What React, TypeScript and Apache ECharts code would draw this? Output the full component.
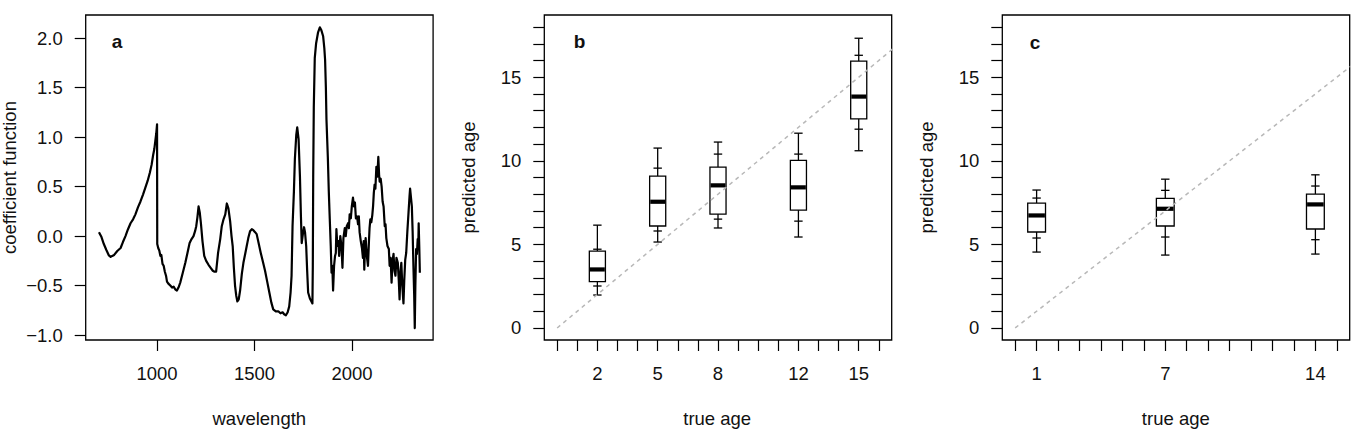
import React, { useEffect, useRef } from "react";
import * as echarts from "echarts";

// ---------- Panel a: coefficient function ----------
const wavelengths = [
  702, 715, 727, 740, 753, 762, 770, 780, 796, 813, 825, 838, 851, 864, 877, 889, 902, 915, 928, 940,
  952, 963, 972, 980, 986, 991, 996, 1000, 1001, 1006, 1012, 1017, 1022, 1028, 1034, 1040, 1046, 1051,
  1058, 1068, 1077, 1085, 1094, 1102, 1110, 1119, 1132, 1145, 1156, 1167, 1177, 1187, 1195, 1201, 1207,
  1213, 1219, 1225, 1233, 1242, 1252, 1264, 1275, 1286, 1295, 1303, 1313, 1324, 1332, 1341, 1350, 1358,
  1366, 1375, 1382, 1388, 1394, 1400, 1406, 1412, 1419, 1426, 1435, 1443, 1452, 1460, 1468, 1477, 1486,
  1494, 1503, 1511, 1522, 1532, 1543, 1554, 1565, 1576, 1586, 1596, 1609, 1622, 1633, 1644, 1652, 1661,
  1670, 1678, 1685, 1690, 1695, 1702, 1707, 1714, 1719, 1726, 1733, 1738, 1742, 1748, 1754, 1759, 1765,
  1770, 1775, 1784, 1792, 1797, 1799, 1801, 1804, 1809, 1816, 1826, 1835, 1843, 1852, 1858, 1862, 1866,
  1869, 1876, 1881, 1886, 1891, 1895, 1899, 1903, 1908, 1913, 1917, 1920, 1925, 1930, 1934, 1940, 1946,
  1951, 1956, 1963, 1968, 1973, 1980, 1984, 1988, 1994, 1999, 2005, 2010, 2015, 2020, 2026, 2031, 2035,
  2039, 2045, 2051, 2056, 2060, 2063, 2067, 2070, 2076, 2082, 2087, 2090, 2094, 2099, 2104, 2108, 2112,
  2116, 2120, 2125, 2130, 2135, 2139, 2142, 2147, 2152, 2157, 2162, 2168, 2172, 2176, 2182, 2189, 2193,
  2198, 2203, 2208, 2213, 2218, 2223, 2228, 2235, 2240, 2244, 2249, 2253, 2258, 2264, 2268, 2273, 2278,
  2284, 2290, 2295, 2298, 2302, 2307, 2311, 2315, 2319, 2322, 2325, 2329, 2333, 2337, 2340, 2342, 2345,
  2348,
];
const coefficients = [
  0.04, -0.01, -0.08, -0.14, -0.195, -0.21, -0.2, -0.19, -0.15, -0.12, -0.06, 0.0, 0.07, 0.13, 0.17, 0.22,
  0.29, 0.35, 0.42, 0.49, 0.56, 0.64, 0.72, 0.82, 0.88, 0.96, 1.04, 1.13, -0.08, -0.12, -0.15, -0.2, -0.19,
  -0.28, -0.3, -0.36, -0.4, -0.46, -0.48, -0.5, -0.52, -0.51, -0.54, -0.55, -0.52, -0.47, -0.37, -0.27,
  -0.17, -0.07, -0.03, 0.0, 0.05, 0.1, 0.19, 0.3, 0.24, 0.13, -0.05, -0.2, -0.25, -0.29, -0.32, -0.35,
  -0.36, -0.36, -0.17, -0.03, 0.1, 0.17, 0.22, 0.33, 0.28, 0.15, 0.0, -0.1, -0.32, -0.5, -0.6, -0.66,
  -0.64, -0.55, -0.38, -0.27, -0.18, -0.1, -0.02, 0.05, 0.07, 0.06, 0.04, 0.02, -0.08, -0.17, -0.26, -0.35,
  -0.46, -0.57, -0.67, -0.74, -0.76, -0.76, -0.78, -0.77, -0.79, -0.8, -0.77, -0.71, -0.57, -0.4, 0.1,
  0.45, 0.78, 1.02, 1.1, 0.98, 0.6, 0.2, -0.07, 0.02, 0.09, 0.04, -0.1, -0.35, -0.57, -0.63, -0.66, -0.68,
  -0.3, 0.6, 1.3, 1.8, 1.95, 2.06, 2.11, 2.08, 2.02, 1.9, 1.78, 1.5, 1.18, 0.8, 0.45, 0.17, -0.1, -0.37,
  -0.3, -0.55, -0.3, -0.2, -0.17, 0.07, -0.1, -0.05, -0.2, 0.0, -0.1, -0.32, -0.02, 0.08, 0.0, 0.1, 0.13,
  0.08, 0.22, 0.18, 0.3, 0.39, 0.3, 0.34, 0.18, 0.2, 0.12, 0.2, 0.04, -0.05, -0.12, -0.22, -0.05, -0.34,
  -0.1, -0.02, -0.2, -0.3, -0.05, 0.08, 0.17, 0.14, 0.21, 0.3, 0.44, 0.52, 0.48, 0.7, 0.6, 0.8, 0.62,
  0.55, 0.58, 0.5, 0.35, 0.3, 0.1, 0.12, -0.02, -0.1, -0.13, -0.3, -0.22, -0.47, -0.25, -0.18, -0.35,
  -0.4, -0.22, -0.27, -0.45, -0.64, -0.35, -0.27, -0.5, -0.68, -0.45, -0.24, -0.17, 0.05, 0.24, 0.4, 0.48,
  0.4, 0.3, 0.05, -0.3, -0.6, -0.93, -0.5, -0.13, -0.18, -0.03, -0.1, 0.13, -0.1, -0.37,
];
const aXTicks = [1000, 1500, 2000];
const aYTicks = [-1, -0.5, 0, 0.5, 1, 1.5, 2];

// ---------- Panel b: boxplots of predicted vs true age ----------
const bTrueAge = [2, 5, 8, 12, 15];
const bWhiskerLow = [1.97, 5.14, 5.98, 5.44, 10.6];
const bCapLow = [2.51, 5.8, 6.51, 6.39, 11.89];
const bQ1 = [2.77, 6.1, 6.81, 7.05, 12.51];
const bMedian = [3.5, 7.55, 8.53, 8.41, 13.84];
const bQ3 = [4.6, 9.08, 9.62, 10.02, 15.96];
const bCapHigh = [4.71, 9.56, 10.4, 10.4, 16.31];
const bWhiskerHigh = [6.15, 10.76, 11.12, 11.65, 17.33];
const bXTicks = [0, 1, 2, 3, 4, 5, 6, 7, 8, 9, 10, 11, 12, 13, 14, 15, 16];
const bXLabels = [2, 5, 8, 12, 15];

// ---------- Panel c ----------
const cTrueAge = [1, 7, 14];
const cWhiskerLow = [4.54, 4.36, 4.42];
const cCapLow = [5.38, 5.44, 5.28];
const cQ1 = [5.74, 6.1, 5.92];
const cMedian = [6.73, 7.13, 7.39];
const cQ3 = [7.47, 7.75, 8.01];
const cCapHigh = [7.77, 8.23, 8.49];
const cWhiskerHigh = [8.25, 8.9, 9.16];
const cXTicks = [0, 1, 2, 3, 4, 5, 6, 7, 8, 9, 10, 11, 12, 13, 14, 15];
const cXLabels = [1, 7, 14];

const ageYTicks = [0, 1, 2, 3, 4, 5, 6, 7, 8, 9, 10, 11, 12, 13, 14, 15, 16, 17, 18];
const ageYLabels = [0, 5, 10, 15];
const identityLine = [0, 17];

const FONT = "'Liberation Sans', Arial, sans-serif";
const FS = 18.5;
const INK = "#111";

function buildBoxData(xs: number[], lo: number[], cl: number[], q1: number[], md: number[], q3: number[], ch: number[], hi: number[]) {
  return xs.map((x, i) => [x, lo[i], cl[i], q1[i], md[i], q3[i], ch[i], hi[i]]);
}

function boxRenderer(boxUnits: number) {
  return (params: any, api: any) => {
    const x = api.value(0);
    const vals = [1, 2, 3, 4, 5, 6, 7].map((k) => api.value(k));
    const pts = vals.map((v) => api.coord([x, v]));
    const cx = pts[0][0];
    const half = api.size([boxUnits, 0])[0] / 2;
    const capHalf = 4.2;
    const stroke = { stroke: "#000", lineWidth: 1.3 };
    const hline = (y: number, h: number, lw?: number) => ({
      type: "line",
      shape: { x1: cx - h, y1: y, x2: cx + h, y2: y },
      style: { stroke: "#000", lineWidth: lw || 1.3 },
    });
    return {
      type: "group",
      children: [
        { type: "line", shape: { x1: cx, y1: pts[0][1], x2: cx, y2: pts[2][1] }, style: stroke },
        { type: "line", shape: { x1: cx, y1: pts[4][1], x2: cx, y2: pts[6][1] }, style: stroke },
        hline(pts[0][1], capHalf),
        hline(pts[1][1], capHalf),
        hline(pts[5][1], capHalf),
        hline(pts[6][1], capHalf),
        {
          type: "rect",
          shape: { x: cx - half, y: pts[4][1], width: half * 2, height: pts[2][1] - pts[4][1] },
          style: { fill: "#fff", stroke: "#000", lineWidth: 1.3 },
        },
        hline(pts[3][1], half - 0.6, 4.2),
      ],
    };
  };
}

function axisCommon(ticks: number[]) {
  return {
    axisLine: { show: false, onZero: false },
    splitLine: { show: false },
    axisTick: { show: true, inside: false, length: 11, customValues: ticks, lineStyle: { color: "#000", width: 1.2 } },
  };
}

export default function App() {
  const ref = useRef<HTMLDivElement>(null);
  useEffect(() => {
    if (!ref.current) return;
    const chart = echarts.init(ref.current, null, { renderer: "svg" });
    const gridBase = { top: 15, height: 325, width: 347.4, show: true, borderColor: "#000", borderWidth: 1.3, backgroundColor: "transparent", outerBoundsMode: "none" };
    const plain = (v: number) => String(v);
    const xLabel = (vals: number[]) => ({ show: true, customValues: vals, margin: 24, fontSize: FS, fontFamily: FONT, color: INK, formatter: plain });
    const yLabel = (vals: number[], fmt?: (v: number) => string) => ({ show: true, customValues: vals, margin: 23, fontSize: FS, fontFamily: FONT, color: INK, formatter: fmt || plain });
    const text = (t: string, x: number, y: number, rot: number, bold?: boolean) => ({
      type: "text",
      x,
      y,
      rotation: rot,
      style: {
        text: t,
        fontSize: bold ? 19 : FS,
        fontWeight: bold ? "bold" : "normal",
        fontFamily: FONT,
        fill: INK,
        textAlign: "center",
        textVerticalAlign: "middle",
        align: "center",
        verticalAlign: "middle",
      },
    });
    const option: any = {
      animation: false,
      backgroundColor: "#fff",
      grid: [
        { ...gridBase, left: 85.7 },
        { ...gridBase, left: 544.3 },
        { ...gridBase, left: 1002.3 },
      ],
      xAxis: [
        { type: "value", gridIndex: 0, position: "bottom", min: 634, max: 2416, ...axisCommon(aXTicks), axisLabel: xLabel(aXTicks) },
        { type: "value", gridIndex: 1, position: "bottom", min: -0.64, max: 16.64, ...axisCommon(bXTicks), axisLabel: xLabel(bXLabels) },
        { type: "value", gridIndex: 2, position: "bottom", min: -0.6, max: 15.6, ...axisCommon(cXTicks), axisLabel: xLabel(cXLabels) },
      ],
      yAxis: [
        {
          type: "value", gridIndex: 0, position: "left", min: -1.05, max: 2.235, ...axisCommon(aYTicks),
          axisLabel: yLabel(aYTicks, (v: number) => (v < 0 ? "\u2212" + Math.abs(v).toFixed(1) : v.toFixed(1))),
        },
        { type: "value", gridIndex: 1, position: "left", min: -0.72, max: 18.72, ...axisCommon(ageYTicks), axisLabel: yLabel(ageYLabels) },
        { type: "value", gridIndex: 2, position: "left", min: -0.72, max: 18.72, ...axisCommon(ageYTicks), axisLabel: yLabel(ageYLabels) },
      ],
      series: [
        {
          type: "line", xAxisIndex: 0, yAxisIndex: 0, showSymbol: false, symbol: "none",
          data: wavelengths.map((w, i) => [w, coefficients[i]]),
          lineStyle: { color: "#000", width: 2.2, join: "round" },
        },
        {
          type: "line", xAxisIndex: 1, yAxisIndex: 1, symbol: "none", clip: true,
          data: identityLine.map((v) => [v, v]),
          lineStyle: { color: "#b8b8b8", width: 1.5, type: [4, 4] },
        },
        {
          type: "line", xAxisIndex: 2, yAxisIndex: 2, symbol: "none", clip: true,
          data: identityLine.map((v) => [v, v]),
          lineStyle: { color: "#b8b8b8", width: 1.5, type: [4, 4] },
        },
        {
          type: "custom", xAxisIndex: 1, yAxisIndex: 1,
          renderItem: boxRenderer(0.8),
          encode: { x: 0, y: [1, 2, 3, 4, 5, 6, 7] },
          data: buildBoxData(bTrueAge, bWhiskerLow, bCapLow, bQ1, bMedian, bQ3, bCapHigh, bWhiskerHigh),
        },
        {
          type: "custom", xAxisIndex: 2, yAxisIndex: 2,
          renderItem: boxRenderer(0.83),
          encode: { x: 0, y: [1, 2, 3, 4, 5, 6, 7] },
          data: buildBoxData(cTrueAge, cWhiskerLow, cCapLow, cQ1, cMedian, cQ3, cCapHigh, cWhiskerHigh),
        },
      ],
      graphic: [
        text("coefficient function", 9.7, 177.5, Math.PI / 2),
        text("predicted age", 468.7, 177.5, Math.PI / 2),
        text("predicted age", 926.7, 177.5, Math.PI / 2),
        text("wavelength", 259.3, 418, 0),
        text("true age", 717.2, 418, 0),
        text("true age", 1175.8, 418, 0),
        text("a", 117, 41, 0, true),
        text("b", 579.5, 41, 0, true),
        text("c", 1035, 42, 0, true),
      ],
    };
    chart.setOption(option);
    return () => chart.dispose();
  }, []);
  return (
    <div
      ref={ref}
      style={{ position: "absolute", left: 0, top: 0, width: 1368, height: 448, background: "#fff" }}
    />
  );
}
